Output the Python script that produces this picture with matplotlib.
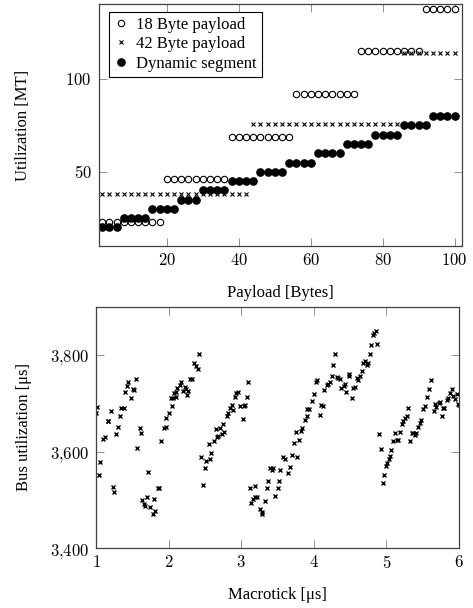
import matplotlib.pyplot as plt
from matplotlib.ticker import FuncFormatter

plt.rcParams['font.family'] = ['Liberation Serif', 'DejaVu Serif']
plt.rcParams['mathtext.fontset'] = 'cm'
plt.rcParams['font.size'] = 12

# ---- top chart: utilization vs payload ----
payload_18 = [2, 4, 6, 8, 10, 12, 14, 16, 18,
              20, 22, 24, 26, 28, 30, 32, 34, 36,
              38, 40, 42, 44, 46, 48, 50, 52, 54,
              56, 58, 60, 62, 64, 66, 68, 70, 72,
              74, 76, 78, 80, 82, 84, 86, 88, 90,
              92, 94, 96, 98, 100]
util_18 = [23] * 9 + [46] * 9 + [69] * 9 + [92] * 9 + [115] * 9 + [138] * 5

payload_42 = list(range(2, 101, 2))
util_42 = [38] * 21 + [76] * 21 + [114] * 8

payload_dyn = list(range(2, 101, 2))
util_dyn = ([20] * 3 + [25] * 4 + [30] * 4 + [35] * 3 + [40] * 4 + [45] * 4 +
            [50] * 4 + [55] * 4 + [60] * 4 + [65] * 4 + [70] * 4 + [75] * 4 + [80] * 4)

# ---- bottom chart: bus utilization vs macrotick ----
macrotick = [
    1.00, 1.01, 1.045, 1.055, 1.10, 1.12, 1.16, 1.17, 1.20, 1.23, 1.25, 1.27, 1.30,
    1.33, 1.35, 1.38, 1.40, 1.42, 1.445, 1.48, 1.505, 1.52, 1.55, 1.57, 1.60, 1.62,
    1.64, 1.66, 1.67, 1.70, 1.72, 1.74, 1.78, 1.80, 1.81, 1.86, 1.87, 1.90, 1.93,
    1.96, 1.97, 2.00, 2.03, 2.05, 2.06, 2.07, 2.10, 2.10, 2.12, 2.15, 2.17, 2.20,
    2.23, 2.24, 2.26, 2.27, 2.30, 2.32, 2.35, 2.38, 2.40, 2.42,
    2.45, 2.48, 2.50, 2.52, 2.55, 2.57, 2.59, 2.62, 2.65, 2.66, 2.68, 2.71, 2.73,
    2.75, 2.76, 2.80, 2.82, 2.85, 2.88, 2.89, 2.92, 2.93, 2.95, 2.99, 3.02, 3.04,
    3.05, 3.08, 3.10,
    3.12, 3.14, 3.16, 3.19, 3.19, 3.22, 3.26, 3.28, 3.29, 3.33,
    3.35, 3.37, 3.46, 3.50, 3.52, 3.39, 3.42, 3.44, 3.54, 3.65, 3.67, 3.57, 3.60,
    3.70, 3.77, 3.73, 3.80, 3.76, 3.82, 3.84, 3.88, 3.90, 3.94, 3.91, 4.00, 3.97,
    4.03, 4.05, 4.08, 4.10, 4.12, 4.14, 4.18, 4.20, 4.22, 4.25, 4.27, 4.29, 4.32, 4.34,
    4.36, 4.38, 4.41, 4.43, 4.45, 4.49, 4.48, 4.52, 4.54, 4.57, 4.59, 4.61, 4.63,
    4.66, 4.68, 4.70, 4.73, 4.75, 4.77, 4.79, 4.87, 4.82, 4.83, 4.85,
    4.90, 4.92, 5.07, 4.95, 4.97, 5.00, 5.01, 5.04, 5.05, 5.09, 5.12, 5.14, 5.16,
    5.19, 5.21, 5.23, 5.26, 5.28, 5.30, 5.32, 5.35, 5.37, 5.39, 5.41, 5.44, 5.46,
    5.48, 5.51, 5.53, 5.56, 5.59, 5.61, 5.65, 5.67, 5.69, 5.72, 5.74, 5.76, 5.78,
    5.80, 5.83, 5.85, 5.87, 5.90, 5.92, 5.94, 5.97, 5.99, 6.00,
]
bus_util = [
    3680, 3693, 3552, 3578, 3626, 3630, 3664, 3664, 3685, 3526, 3517, 3636, 3650,
    3674, 3690, 3690, 3724, 3736, 3745, 3710, 3729, 3728, 3750, 3607, 3648, 3638,
    3500, 3492, 3488, 3507, 3558, 3485, 3472, 3502, 3478, 3525, 3524, 3621, 3648,
    3670, 3650, 3679, 3710, 3694, 3712, 3721, 3723, 3714, 3731, 3738, 3745, 3726,
    3733, 3729, 3717, 3726, 3750, 3750, 3784, 3778, 3772, 3803,
    3589, 3532, 3566, 3580, 3615, 3585, 3598, 3622, 3646, 3631, 3632, 3648, 3636,
    3657, 3641, 3674, 3679, 3690, 3697, 3686, 3714, 3722, 3724, 3694, 3667, 3694,
    3697, 3714, 3745,
    3524, 3494, 3501, 3529, 3506, 3506, 3481, 3472, 3476, 3498,
    3524, 3539, 3508, 3524, 3539, 3566, 3563, 3566, 3563, 3555, 3569, 3589, 3584,
    3593, 3589, 3617, 3625, 3641, 3643, 3649, 3665, 3673, 3689, 3689, 3719, 3704,
    3744, 3749, 3675, 3697, 3694, 3727, 3737, 3741, 3744, 3756, 3779, 3802, 3754, 3752,
    3750, 3731, 3736, 3741, 3724, 3760, 3756, 3710, 3731, 3734, 3752, 3748, 3756,
    3767, 3784, 3788, 3779, 3783, 3802, 3821, 3822, 3841, 3845, 3850,
    3636, 3605, 3604, 3535, 3552, 3571, 3576, 3585, 3590, 3621, 3639, 3625, 3625,
    3640, 3658, 3663, 3670, 3673, 3690, 3621, 3639, 3639, 3635, 3639, 3652, 3659,
    3665, 3688, 3695, 3714, 3730, 3748, 3684, 3698, 3693, 3701, 3703, 3674, 3691,
    3691, 3707, 3712, 3722, 3729, 3715, 3708, 3719, 3698, 3696,
]


def math_ticks(v, pos):
    return "$" + f"{v:,.0f}".replace(",", "{,}") + "$"


def style_axes(ax):
    for spine in ax.spines.values():
        spine.set_color("0.25")
        spine.set_linewidth(0.9)
    ax.tick_params(direction="in", length=5.5, width=0.6, color="0.5",
                   top=True, right=True, labelsize=12, pad=5)
    ax.xaxis.set_major_formatter(FuncFormatter(math_ticks))
    ax.yaxis.set_major_formatter(FuncFormatter(math_ticks))


fig = plt.figure(figsize=(4.73, 6.08), dpi=100)

ax1 = fig.add_axes([0.2083, 0.5954, 0.768, 0.398])
ax1.plot(payload_18, util_18, linestyle="none", marker="o", markersize=4.6,
         markerfacecolor="white", markeredgecolor="black", markeredgewidth=0.8,
         label="18 Byte payload")
ax1.plot(payload_42, util_42, linestyle="none", marker="x", markersize=3.0,
         color="black", markeredgewidth=0.8, label="42 Byte payload")
ax1.plot(payload_dyn, util_dyn, linestyle="none", marker="o", markersize=5.2,
         color="black", label="Dynamic segment")
ax1.set_xlim(1, 102)
ax1.set_ylim(10, 140.5)
ax1.set_xticks([20, 40, 60, 80, 100])
ax1.set_yticks([50, 100])
style_axes(ax1)
ax1.set_xlabel("Payload [Bytes]", fontsize=12)
ax1.set_ylabel("Utilization [MT]", fontsize=12)
ax1.xaxis.set_label_coords(0.5, -0.16)
ax1.yaxis.set_label_coords(-0.185, 0.5)
leg = ax1.legend(loc="upper left", bbox_to_anchor=(0.03, 0.967), fontsize=12,
                 frameon=True, fancybox=False, edgecolor="black", framealpha=1,
                 handlelength=0.8, handletextpad=0.5, labelspacing=0.2,
                 borderpad=0.3, borderaxespad=0)
leg.get_frame().set_linewidth(0.8)

ax2 = fig.add_axes([0.203, 0.0982, 0.7674, 0.3974])
ax2.plot(macrotick, bus_util, linestyle="none", marker="x", markersize=3.2,
         color="black", markeredgewidth=1.0)
ax2.set_xlim(1, 6)
ax2.set_ylim(3400, 3900)
ax2.set_xticks([1, 2, 3, 4, 5, 6])
ax2.set_yticks([3400, 3600, 3800])
style_axes(ax2)
ax2.set_xlabel("Macrotick [μs]", fontsize=12)
ax2.set_ylabel("Bus utilization [μs]", fontsize=12)
ax2.xaxis.set_label_coords(0.5, -0.16)
ax2.yaxis.set_label_coords(-0.176, 0.5)

fig.savefig("out.png", dpi=100)
